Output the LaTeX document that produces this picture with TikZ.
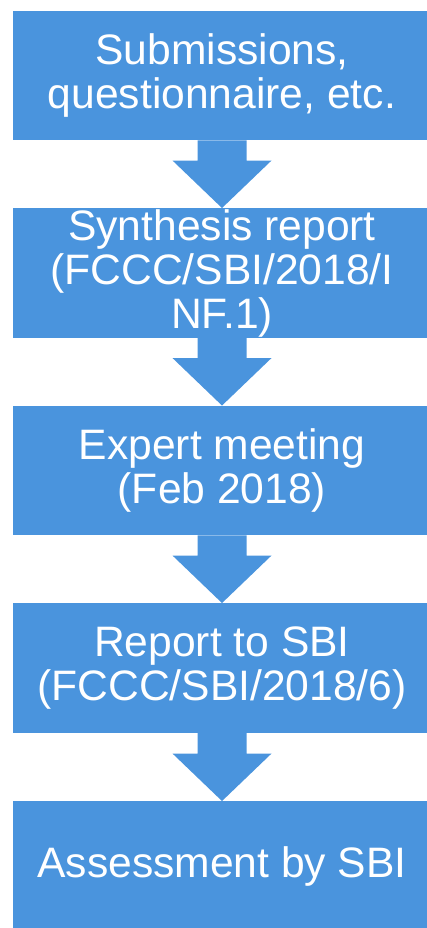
\documentclass[tikz,border=0pt]{standalone}
\usepackage{fontspec}
\setmainfont{Liberation Sans}
\usetikzlibrary{calc}
\definecolor{boxblue}{HTML}{4A94DD}
\tikzset{
  stepbox/.style={fill=boxblue, draw=none, minimum width=418pt, minimum height=129.5pt,
    inner sep=0pt, text=white, align=center,
    font=\fontsize{42.6}{44}\selectfont},
  blockarrow/.style={fill=boxblue, draw=none}
}
\newcommand{\blockarrowpath}[2]{%
  \fill[blockarrow] ($(#1.south)+(-24.5,0)$) -- ($(#2.north)+(-24.5,-47.5)$)
    -- ($(#2.north)+(-49.5,-47.5)$) -- (#2.north)
    -- ($(#2.north)+(49.5,-47.5)$) -- ($(#2.north)+(24.5,-47.5)$)
    -- ($(#1.south)+(24.5,0)$) -- cycle;}
\begin{document}
\begin{tikzpicture}[x=1pt,y=-1pt]
\useasboundingbox (0,0) rectangle (427,928);
\node[stepbox] (b1) at (222,75.5) {Submissions,\\questionnaire, etc.};
\node[stepbox] (b2) at (222,273) {Synthesis report\\(FCCC/SBI/2018/I\\NF.1)};
\node[stepbox] (b3) at (222,470.5) {Expert meeting\\(Feb 2018)};
\node[stepbox] (b4) at (222,668) {Report to SBI\\(FCCC/SBI/2018/6)};
\node[stepbox] (b5) at (222,866) {Assessment by SBI};
\blockarrowpath{b1}{b2}
\blockarrowpath{b2}{b3}
\blockarrowpath{b3}{b4}
\blockarrowpath{b4}{b5}
\end{tikzpicture}
\end{document}
